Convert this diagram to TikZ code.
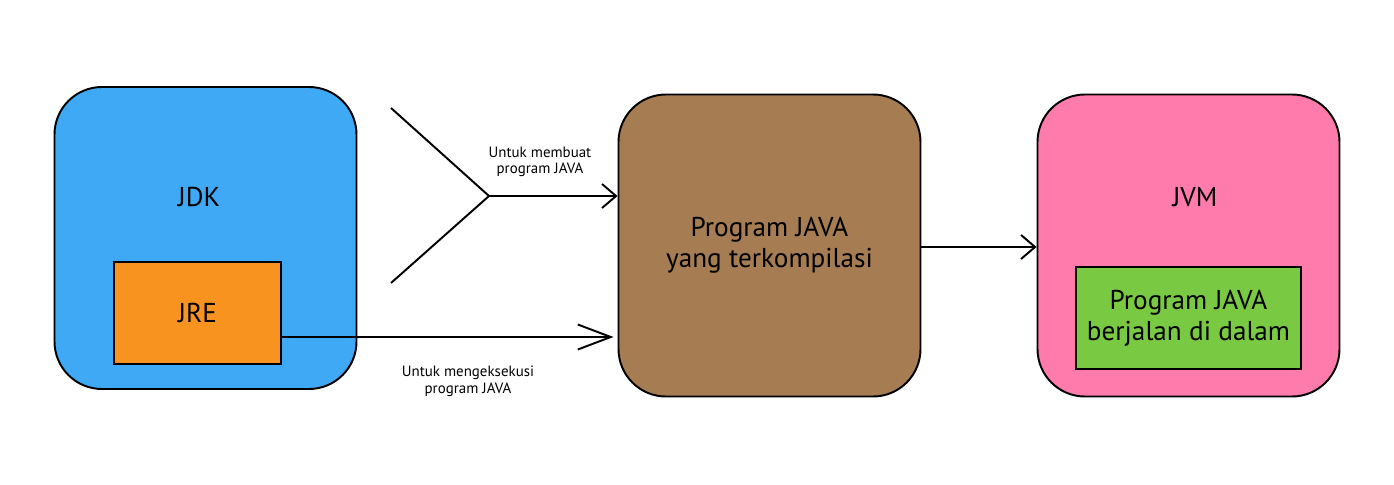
\documentclass[tikz,border=0pt]{standalone}
\usepackage{fontspec}
\setmainfont{PT Sans}
\usetikzlibrary{arrows.meta}
\definecolor{jdkblue}{HTML}{3FA9F5}
\definecolor{jreorange}{HTML}{F7931E}
\definecolor{progbrown}{HTML}{A67C52}
\definecolor{jvmpink}{HTML}{FF7BAC}
\definecolor{rungreen}{HTML}{7AC943}
\tikzstyle{bigbox} = [rectangle, draw, line width=1.1pt, rounded corners=0.95cm,
    minimum width=6.04cm, minimum height=6.04cm, align=center,
    font=\fontsize{15.5}{17.5}\selectfont]
\tikzstyle{inbox} = [rectangle, draw, line width=1.1pt, minimum height=2.04cm,
    align=center, font=\fontsize{15.5}{17.5}\selectfont]
\tikzstyle{title} = [font=\fontsize{15.5}{17.5}\selectfont]
\tikzstyle{note} = [align=center, font=\fontsize{8.5}{9.5}\selectfont]
\tikzstyle{line} = [draw, line width=1.1pt, -{Straight Barb[length=0.28cm, width=0.48cm]}]
\tikzstyle{arm} = [draw, line width=1.1pt]

\begin{document}
\begin{tikzpicture}[node distance = 2cm, auto]
    \useasboundingbox (0,0) rectangle (27.88,-9.7);
    % Place nodes
    \node [bigbox, fill=jdkblue] (jdk) at (4.11,-4.76) {};
    \node [title] (jdklabel) at (3.98,-3.94) {JDK};
    \node [inbox, fill=jreorange, minimum width=3.34cm] (jre) at (3.95,-6.26) {JRE};
    \node [bigbox, fill=progbrown, right of=jdk, node distance=11.28cm, yshift=-0.15cm] (prog) {Program JAVA\\yang terkompilasi};
    \node [bigbox, fill=jvmpink, right of=prog, node distance=8.38cm] (jvm) {};
    \node [title] (jvmlabel) at (23.9,-3.94) {JVM};
    \node [inbox, fill=rungreen, minimum width=4.5cm] (run) at (23.77,-6.36) {Program JAVA\\berjalan di dalam};
    \coordinate (armtop) at (7.82,-2.16);
    \coordinate (armbot) at (7.82,-5.66);
    \coordinate (fork) at (9.78,-3.92);
    \node [note] (make) at (10.8,-3.24) {Untuk membuat\\program JAVA};
    \node [note] (exec) at (9.36,-7.62) {Untuk mengeksekusi\\program JAVA};
    % Draw edges
    \path [arm] (armtop) -- (fork) -- (armbot);
    \path [line] (fork) -- (fork -| prog.west);
    \path [line, -{Straight Barb[length=0.66cm, width=0.5cm]}] (jre.east |- 0,-6.74) -- ([xshift=-0.08cm]prog.west |- 0,-6.74);
    \path [line] (prog.east |- 0,-4.94) -- (jvm.west |- 0,-4.94);
\end{tikzpicture}
\end{document}
